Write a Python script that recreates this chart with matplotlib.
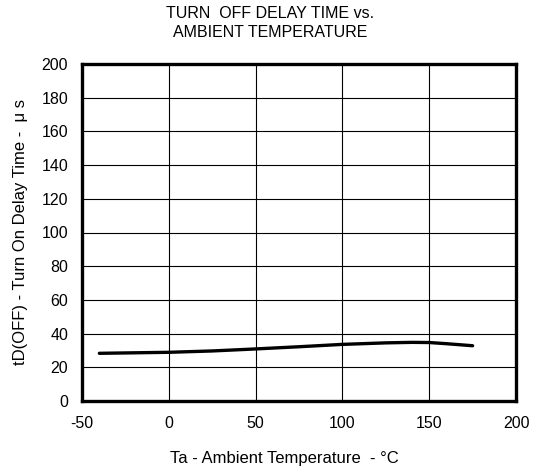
import matplotlib
matplotlib.use("Agg")
import matplotlib.pyplot as plt

plt.rcParams['font.family'] = ['Liberation Sans', 'DejaVu Sans']
plt.rcParams['axes.unicode_minus'] = False

temp = [-40, -20, 0, 25, 50, 75, 100, 125, 140, 150, 160, 175]
delay = [28.3, 28.6, 28.9, 29.7, 30.9, 32.2, 33.6, 34.5, 34.8, 34.7, 34.0, 32.8]
xticks = [-50, 0, 50, 100, 150, 200]
yticks = [0, 20, 40, 60, 80, 100, 120, 140, 160, 180, 200]

fig = plt.figure(figsize=(5.41, 4.70), dpi=100)
ax = fig.add_axes([82/541, 1-401/470, (516-82)/541, (401-64)/470])
ax.plot(temp, delay, color='black', lw=2.4, solid_capstyle='round')
ax.set_xlim(-50, 200)
ax.set_ylim(0, 200)
ax.set_xticks(xticks)
ax.set_yticks(yticks)
ax.grid(True, color='black', lw=0.8)
ax.set_axisbelow(True)
ax.tick_params(axis='y', length=0, labelsize=11.5, pad=10)
ax.tick_params(axis='x', length=0, labelsize=11.5, pad=11)
for s in ax.spines.values():
    s.set_linewidth(2.4)
fig.text(0.5, 1-18/470, 'TURN  OFF DELAY TIME vs.', ha='center', va='baseline', fontsize=11.5)
fig.text(0.5, 1-37/470, 'AMBIENT TEMPERATURE', ha='center', va='baseline', fontsize=11.5)
fig.text(284/541, 1-463/470, 'Ta - Ambient Temperature  - °C', ha='center', va='baseline', fontsize=12)
fig.text(21/541, 1-232/470, 'tD(OFF) - Turn On Delay Time -  μ s', ha='center', va='center', rotation=90, fontsize=12)
fig.savefig('out.png', dpi=100)
